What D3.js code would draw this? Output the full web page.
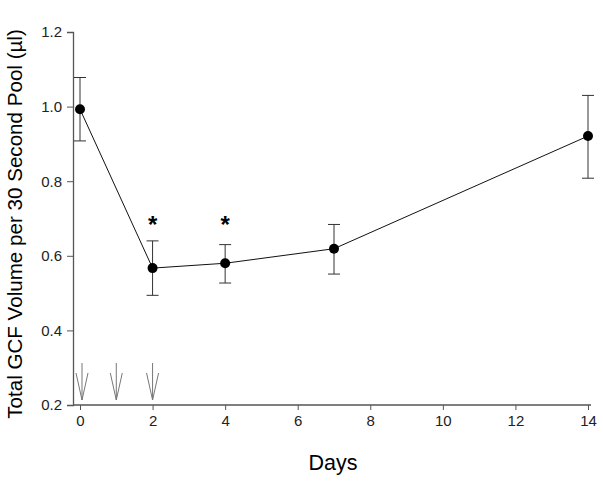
<!DOCTYPE html>
<html><head><meta charset="utf-8">
<script src="https://cdn.jsdelivr.net/npm/d3@7"></script>
<style>body{margin:0;background:#fff}svg{display:block}</style>
</head><body>
<svg id="chart" width="603" height="483"></svg>
<script>
const days = [0, 2, 4, 7, 14];
const means = [0.993, 0.567, 0.580, 0.619, 0.921];
const upper = [1.078, 0.640, 0.630, 0.684, 1.030];
const lower = [0.908, 0.494, 0.527, 0.551, 0.808];
const starDays = [2, 4];
const starValues = [0.70, 0.70];
const arrowDays = [0, 1, 2];
const xTicks = [0, 2, 4, 6, 8, 10, 12, 14];
const yTicks = [0.2, 0.4, 0.6, 0.8, 1.0, 1.2];

const svg = d3.select("#chart");
const x = d3.scaleLinear().domain([0, 14]).range([80, 588]);
const y = d3.scaleLinear().domain([0.2, 1.2]).range([405, 32]);
const axisColor = "#555";
const font = "Liberation Sans, Arial, sans-serif";

// axes
const xAxis = svg.append("g").attr("transform", "translate(0,405)")
  .call(d3.axisBottom(x).tickValues(xTicks).tickSize(5).tickPadding(5).tickFormat(d3.format("d")));
xAxis.select(".domain").remove();
svg.append("line").attr("x1", 73).attr("x2", 591).attr("y1", 405).attr("y2", 405)
  .attr("stroke", axisColor).attr("stroke-width", 1.3);
const yAxis = svg.append("g").attr("transform", "translate(73,0)")
  .call(d3.axisLeft(y).tickValues(yTicks).tickSize(6).tickPadding(5).tickFormat(d3.format(".1f")));
yAxis.select(".domain").attr("stroke", axisColor).attr("stroke-width", 1.3);
[xAxis, yAxis].forEach(g => {
  g.selectAll(".tick line").attr("stroke", axisColor);
  g.selectAll(".tick text").attr("font-family", font)
    .attr("font-size", 15).attr("fill", "#222");
});

// arrows
const arrows = svg.append("g").attr("stroke", "#777").attr("stroke-width", 1).attr("fill", "none");
arrowDays.forEach(d => {
  const cx = x(d) + (d === 0 ? 2 : 0);
  arrows.append("line").attr("x1", cx).attr("x2", cx).attr("y1", 363).attr("y2", 400);
  arrows.append("path").attr("d", `M${cx - 6},373 L${cx},400 L${cx + 6},373`);
});

// error bars
const eb = svg.append("g").attr("stroke", "#333").attr("stroke-width", 1);
days.forEach((d, i) => {
  eb.append("line").attr("x1", x(d)).attr("x2", x(d)).attr("y1", y(upper[i])).attr("y2", y(lower[i]));
  [upper[i], lower[i]].forEach(v => eb.append("line")
    .attr("x1", x(d) - 6).attr("x2", x(d) + 6).attr("y1", y(v)).attr("y2", y(v)));
});

// line
svg.append("path").datum(days.map((d, i) => [d, means[i]]))
  .attr("d", d3.line().x(p => x(p[0])).y(p => y(p[1])))
  .attr("fill", "none").attr("stroke", "#111").attr("stroke-width", 1);

// points
svg.append("g").selectAll("circle").data(days).join("circle")
  .attr("cx", d => x(d)).attr("cy", (d, i) => y(means[i])).attr("r", 5).attr("fill", "#000");

// asterisks
svg.append("g").selectAll("text").data(starDays).join("text")
  .attr("x", d => x(d)).attr("y", (d, i) => y(starValues[i]) + 14)
  .attr("text-anchor", "middle").attr("font-family", font)
  .attr("font-size", 24).attr("font-weight", "bold").text("*");

// labels
svg.append("text").attr("x", 333).attr("y", 470).attr("text-anchor", "middle")
  .attr("font-family", font).attr("font-size", 21.5).text("Days");
svg.append("text").attr("transform", "translate(22,224) rotate(-90)").attr("text-anchor", "middle")
  .attr("font-family", font).attr("font-size", 20.6)
  .text("Total GCF Volume per 30 Second Pool (µl)");
</script>
</body></html>
